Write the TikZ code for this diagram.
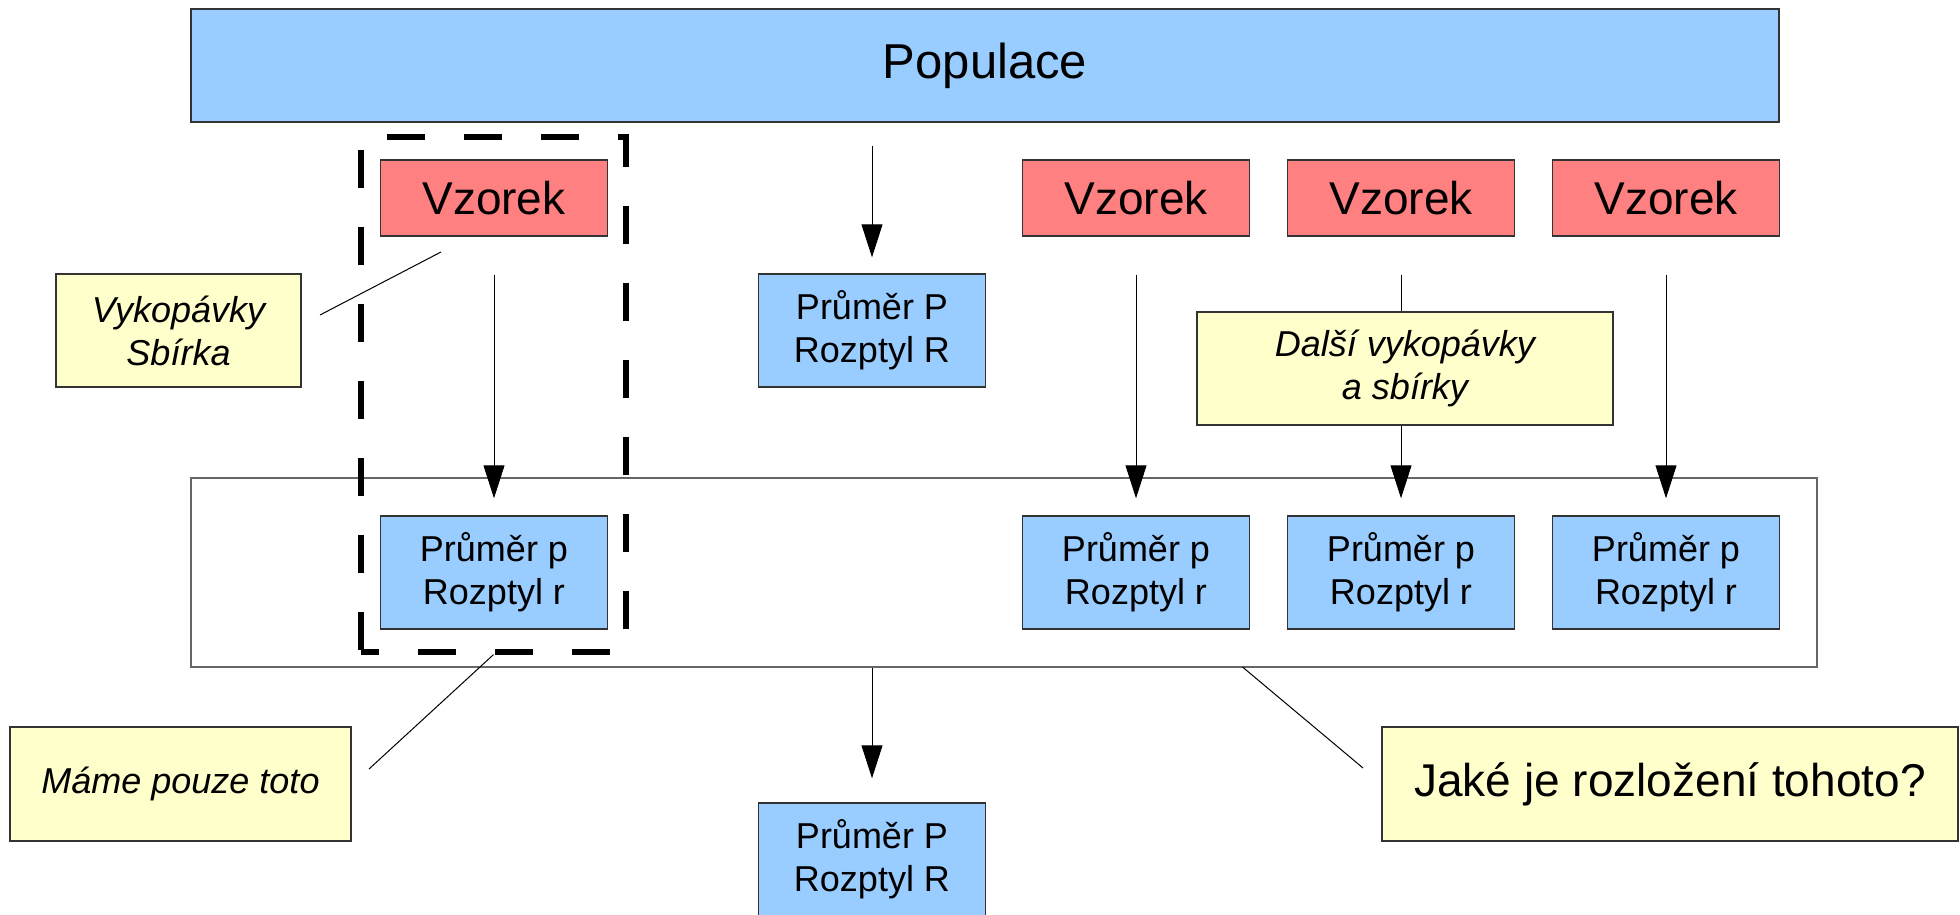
\documentclass[tikz,border=0pt]{standalone}
\usepackage{fontspec}
\setmainfont{Liberation Sans}
\usetikzlibrary{arrows.meta}
\definecolor{boxblue}{HTML}{99CCFF}
\definecolor{boxred}{HTML}{FF8080}
\definecolor{boxyellow}{HTML}{FFFFCC}
\definecolor{edgecol}{HTML}{333333}
\begin{document}
\begin{tikzpicture}[x=0.5pt,y=-0.5pt,
  box/.style={draw=edgecol, line width=0.7pt, inner sep=0pt, align=center},
  popbox/.style={box, fill=boxblue, minimum width=794pt, minimum height=56.5pt, font=\fontsize{24.5}{29}\selectfont},
  vzbox/.style={box, fill=boxred, minimum width=113.5pt, minimum height=38pt, font=\fontsize{23}{27}\selectfont},
  statbox/.style={box, fill=boxblue, minimum width=113.5pt, minimum height=56.5pt, font=\fontsize{18}{21.5}\selectfont},
  notebox/.style={box, fill=boxyellow, minimum height=56.5pt, font=\fontsize{18}{21.5}\selectfont\itshape},
  groupbox/.style={draw=gray!80!black, line width=0.6pt, fill=white, inner sep=0pt, minimum width=813pt, minimum height=94.5pt},
  selbox/.style={draw=black, line width=2.6pt, dash pattern=on 19pt off 19.5pt, dash phase=10pt, inner sep=0pt, minimum width=132.5pt, minimum height=257.5pt},
  arr/.style={draw=black, line width=0.45pt, -{Triangle[width=10.5pt,length=16.5pt]}},
  callout/.style={draw=black, line width=0.5pt}
]
\useasboundingbox (0,0) rectangle (1960,915);

% group rectangle
\node[groupbox] (grp) at (1004,572.5) {};

% population
\node[popbox] (pop) at (985,65.5) {Populace};

% samples
\node[vzbox] (v1) at (494,198) {Vzorek};
\node[vzbox] (v2) at (1136,198) {Vzorek};
\node[vzbox] (v3) at (1401,198) {Vzorek};
\node[vzbox] (v4) at (1666,198) {Vzorek};

% population stats
\node[statbox] (ptop) at (872,330.5) {Průměr P\\Rozptyl R};
\node[statbox] (pbot) at (872,859.5) {Průměr P\\Rozptyl R};

% sample stats
\node[statbox] (s1) at (494,572.5) {Průměr p\\Rozptyl r};
\node[statbox] (s2) at (1136,572.5) {Průměr p\\Rozptyl r};
\node[statbox] (s3) at (1401,572.5) {Průměr p\\Rozptyl r};
\node[statbox] (s4) at (1666,572.5) {Průměr p\\Rozptyl r};

% notes
\node[notebox, minimum width=122.5pt] (vyk) at (178.5,330.5) {Vykopávky\\Sbírka};
\node[notebox, minimum width=170.5pt, minimum height=57pt] (mame) at (180.5,784) {Máme pouze toto};
\node[box, fill=boxyellow, minimum width=288pt, minimum height=57pt, font=\fontsize{23}{27}\selectfont] (jake) at (1670,784) {Jaké je rozložení tohoto?};

% arrows
\draw[arr] ([yshift=-11.5pt]pop.south -| ptop.north) -- ([yshift=8pt]ptop.north);
\draw[arr] ([yshift=-19pt]v1.south) -- ([yshift=8.5pt]s1.north);
\draw[arr] ([yshift=-19pt]v2.south) -- ([yshift=8.5pt]s2.north);
\draw[arr] ([yshift=-19pt]v3.south) -- ([yshift=8.5pt]s3.north);
\draw[arr] ([yshift=-19pt]v4.south) -- ([yshift=8.5pt]s4.north);
\draw[arr] (grp.south -| pbot.north) -- ([yshift=12pt]pbot.north);

% note covering the third sample arrow
\node[notebox, minimum width=208pt] (dalsi) at (1405,368.5) {Další vykopávky\\a sbírky};

% selection frame
\node[selbox] (sel) at (493.5,394.5) {};

% callouts
\coordinate (vykend) at (441,252);
\coordinate (vykstart) at (320,315);
\draw[callout] (vykstart) -- (vykend);
\coordinate (mamestart) at (369,769);
\draw[callout] (mamestart) -- (sel.south);
\coordinate (jakestart) at (1363,768);
\coordinate (jakeend) at (1242.5,667);
\draw[callout] (jakestart) -- (jakeend);
\end{tikzpicture}
\end{document}
